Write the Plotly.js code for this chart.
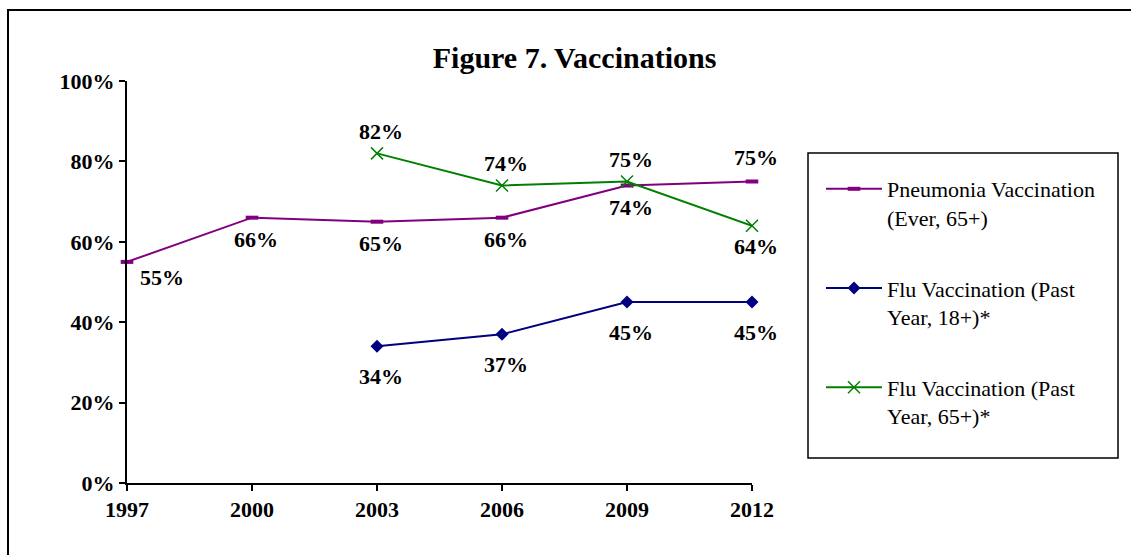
<!DOCTYPE html>
<html>
<head>
<meta charset="utf-8">
<script src="https://cdn.plot.ly/plotly-3.0.1.min.js"></script>
<style>
  body { margin: 0; overflow: hidden; background: #fff; }
  #chart { position: absolute; left: 0; top: 0; width: 1131px; height: 555px; }
  #frame { position: absolute; left: 7px; top: 9px; width: 1300px; height: 700px;
           border: 2px solid #000; pointer-events: none; z-index: 5; }
</style>
</head>
<body>
<div id="chart"></div>
<div id="frame"></div>
<script>
// data
const years = [1997, 2000, 2003, 2006, 2009, 2012];
const pneumonia = [55, 66, 65, 66, 74, 75];
const flu18 = [null, null, 34, 37, 45, 45];
const flu65 = [null, null, 82, 74, 75, 64];
const yTicks = [0, 20, 40, 60, 80, 100];

const names = [
    'Pneumonia Vaccination<br>(Ever, 65+)',
    'Flu Vaccination (Past<br>Year, 18+)*',
    'Flu Vaccination (Past<br>Year, 65+)*'
];

// where each value label sits relative to its point
const pneumoniaSide = ['right', 'below', 'below', 'below', 'below', 'above'];
const flu18Side = [null, null, 'below', 'below', 'below', 'below'];
const flu65Side = [null, null, 'above', 'above', 'above', 'below'];

const serif = 'Liberation Serif, Times New Roman, serif';
const labelFont = {family: serif, size: 22, color: '#000'};

function addLabels(list, values, sides, below, above) {
    values.forEach(function (v, i) {
        if (v === null) return;
        let a = {x: years[i], y: v, text: '<b>' + v + '%</b>', showarrow: false,
                 font: labelFont, xshift: 4};
        if (sides[i] === 'above') a.yshift = above;
        else if (sides[i] === 'below') a.yshift = below;
        else { a.xshift = 35; a.yshift = -16; }
        list.push(a);
    });
}

const annotations = [];
addLabels(annotations, pneumonia, pneumoniaSide, -22, 24);
addLabels(annotations, flu18, flu18Side, -30, 24);
addLabels(annotations, flu65, flu65Side, -21, 22);

const traces = [
    {x: years, y: pneumonia, name: names[0], mode: 'lines+markers', legendgroup: 'a',
     line: {color: '#800080', width: 2},
     marker: {symbol: 'line-ew-open', size: 9, line: {color: '#800080', width: 4}},
     cliponaxis: false},
    {x: years, y: flu18, name: names[1], mode: 'lines+markers', legendgroup: 'b',
     line: {color: '#000080', width: 2},
     marker: {symbol: 'diamond', size: 10, color: '#000080'},
     cliponaxis: false},
    {x: years, y: flu65, name: names[2], mode: 'lines+markers', legendgroup: 'c',
     line: {color: '#008000', width: 2},
     marker: {symbol: 'x-thin-open', size: 12, line: {color: '#008000', width: 1.5}},
     cliponaxis: false}
];

const plotL = 127, plotR = 752, plotT = 81, plotB = 483;
const pw = plotR - plotL, ph = plotB - plotT;

const layout = {
    width: 1131,
    height: 555,
    margin: {l: plotL, r: 1131 - plotR, t: plotT, b: 555 - plotB},
    paper_bgcolor: '#fff',
    plot_bgcolor: '#fff',
    font: {family: serif, color: '#000'},
    title: {
        text: '<b>Figure 7. Vaccinations</b>',
        font: {family: serif, size: 30, color: '#000'},
        x: 0.508, xref: 'container', xanchor: 'center',
        y: 1 - 57 / 555, yref: 'container', yanchor: 'middle'
    },
    xaxis: {
        range: [1997, 2012],
        tickvals: years,
        ticktext: years.map(y => '<b>' + y + '</b>'),
        showgrid: false, zeroline: false,
        showline: true, linecolor: '#000', linewidth: 2,
        ticks: 'outside', ticklen: 6, tickwidth: 2, tickcolor: '#000',
        tickfont: labelFont,
        fixedrange: true
    },
    yaxis: {
        range: [0, 100],
        tickvals: yTicks,
        ticktext: yTicks.map(t => '<b>' + t + '%</b>'),
        showgrid: false, zeroline: false,
        showline: true, linecolor: '#000', linewidth: 2,
        ticks: 'outside', ticklen: 6, tickwidth: 2, tickcolor: '#000',
        tickfont: labelFont,
        ticklabelstandoff: 0,
        fixedrange: true
    },
    showlegend: true,
    legend: {
        x: (821 - plotL) / pw, xanchor: 'left',
        y: (plotB - 168) / ph, yanchor: 'top',
        bgcolor: 'rgba(0,0,0,0)', borderwidth: 0,
        font: {family: serif, size: 22, color: '#000'},
        traceorder: 'grouped', tracegroupgap: 39,
        valign: 'top', itemwidth: 56
    },
    shapes: [{
        type: 'rect', xref: 'paper', yref: 'paper',
        x0: (808 - plotL) / pw, x1: (1118 - plotL) / pw,
        y0: (plotB - 458) / ph, y1: (plotB - 153) / ph,
        line: {color: '#000', width: 1.5}
    }],
    annotations: annotations
};

Plotly.newPlot('chart', traces, layout, {displayModeBar: false, staticPlot: true});
</script>
</body>
</html>
